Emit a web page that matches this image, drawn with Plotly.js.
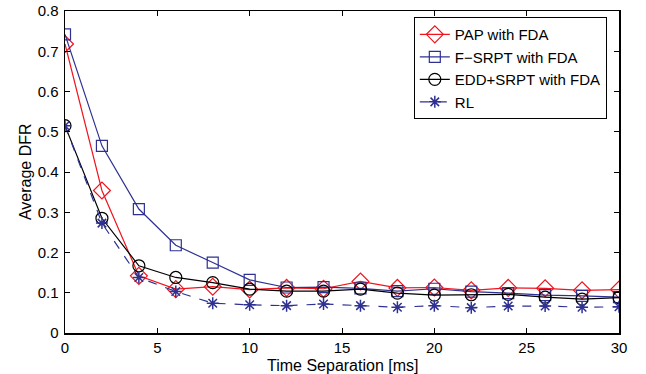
<!DOCTYPE html>
<html>
<head>
<meta charset="utf-8">
<script src="https://cdn.plot.ly/plotly-3.0.1.min.js"></script>
<style>html,body{margin:0;padding:0;background:#fff;}#chart{width:646px;height:374px;}</style>
</head>
<body>
<div id="chart"></div>
<script>
const timeSep = [0, 2, 4, 6, 8, 10, 12, 14, 16, 18, 20, 22, 24, 26, 28, 30];
const papFDA = [0.718, 0.354, 0.142, 0.109, 0.115, 0.108, 0.112, 0.110, 0.128, 0.112, 0.113, 0.106, 0.112, 0.111, 0.106, 0.108];
const fsrptFDA = [0.742, 0.465, 0.308, 0.218, 0.175, 0.132, 0.113, 0.114, 0.111, 0.104, 0.110, 0.103, 0.099, 0.094, 0.092, 0.089];
const eddSrptFDA = [0.515, 0.285, 0.167, 0.138, 0.125, 0.109, 0.104, 0.104, 0.109, 0.099, 0.094, 0.095, 0.096, 0.089, 0.084, 0.088];
const rl = [0.515, 0.273, 0.138, 0.103, 0.074, 0.070, 0.068, 0.072, 0.068, 0.064, 0.068, 0.063, 0.067, 0.067, 0.064, 0.065];
const seriesNames = ['PAP with FDA', 'F\u2212SRPT with FDA', 'EDD+SRPT with FDA', 'RL'];
const xTicks = [0, 5, 10, 15, 20, 25, 30];
const yTicks = [0, 0.1, 0.2, 0.3, 0.4, 0.5, 0.6, 0.7, 0.8];
const yTickText = ['0', '0.1', '0.2', '0.3', '0.4', '0.5', '0.6', '0.7', '0.8'];
const xTitle = 'Time Separation [ms]';
const yTitle = 'Average DFR';

const red = '#f0141e', navy = '#2e3192', blue = '#2e3192';
const traces = [
  {x: timeSep, y: papFDA, name: seriesNames[0], mode: 'lines+markers',
   line: {color: red, width: 1.2}, marker: {symbol: 'diamond-open', size: 13, color: red, line: {width: 1.2}}},
  {x: timeSep, y: fsrptFDA, name: seriesNames[1], mode: 'lines+markers',
   line: {color: navy, width: 1.2}, marker: {symbol: 'square-open', size: 11, color: navy, line: {width: 1.2}}},
  {x: timeSep, y: eddSrptFDA, name: seriesNames[2], mode: 'lines+markers',
   line: {color: '#000000', width: 1.2}, marker: {symbol: 'circle-open', size: 12, color: '#000000', line: {width: 1.2}}},
  {x: timeSep, y: rl, name: seriesNames[3], mode: 'lines+markers',
   line: {color: blue, width: 1.2, dash: 'dash'}, marker: {symbol: 'asterisk-open', size: 10, color: blue, line: {width: 1.5, color: blue}}}
];

const font = 'Liberation Sans, Arial, Helvetica, sans-serif';
const layout = {
  width: 646, height: 374,
  margin: {l: 65, r: 27, t: 11, b: 41},
  paper_bgcolor: '#ffffff', plot_bgcolor: '#ffffff',
  font: {family: font, size: 15, color: '#000'},
  showlegend: true,
  legend: {x: 0.978, y: 0.981, xanchor: 'right', yanchor: 'top',
    bgcolor: '#ffffff', bordercolor: '#000000', borderwidth: 1,
    font: {family: font, size: 15, color: '#000'}, itemwidth: 30,
    tracegroupgap: 0},
  xaxis: {range: [0, 30], tickvals: xTicks, ticktext: xTicks.map(String),
    showgrid: false, zeroline: false, showline: true, linecolor: '#000', linewidth: 1.5,
    mirror: 'ticks', ticks: 'inside', ticklen: 5, tickcolor: '#000', tickwidth: 1,
    tickfont: {size: 15}, ticklabelstandoff: 0},
  yaxis: {range: [0, 0.8], tickvals: yTicks, ticktext: yTickText,
    showgrid: false, zeroline: false, showline: true, linecolor: '#000', linewidth: 1.5,
    mirror: 'ticks', ticks: 'inside', ticklen: 5, tickcolor: '#000', tickwidth: 1,
    tickfont: {size: 15}, ticklabelstandoff: 2},
  annotations: [
    {text: xTitle, xref: 'paper', yref: 'paper', x: 0.5, y: -0.1, xanchor: 'center', yanchor: 'middle',
     showarrow: false, font: {family: font, size: 16, color: '#000'}},
    {text: yTitle, xref: 'paper', yref: 'paper', x: -0.072, y: 0.5, xanchor: 'center', yanchor: 'middle',
     textangle: -90, showarrow: false, font: {family: font, size: 16, color: '#000'}}
  ]
};
Plotly.newPlot('chart', traces, layout, {displayModeBar: false, staticPlot: true});
</script>
</body>
</html>
